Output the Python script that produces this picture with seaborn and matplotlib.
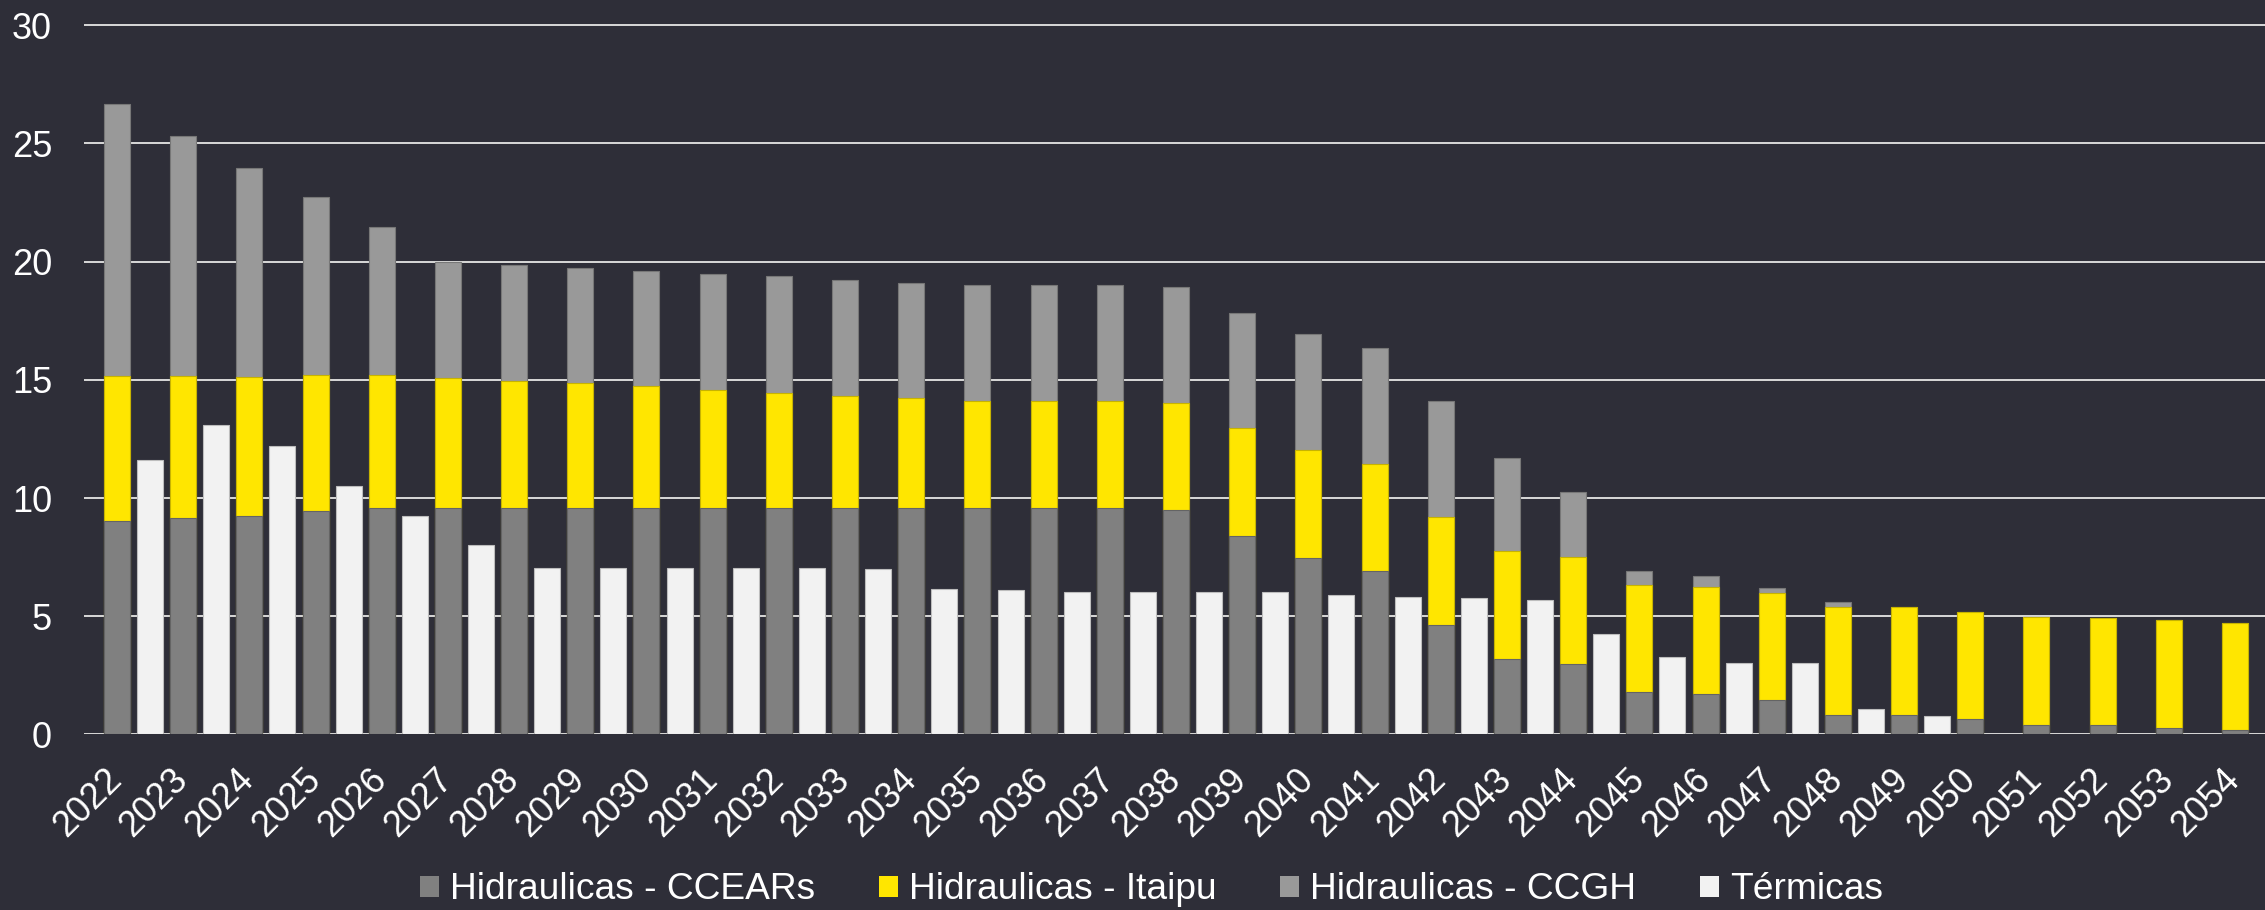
import numpy as np
import pandas as pd
import matplotlib
matplotlib.use("Agg")
import matplotlib.pyplot as plt
from matplotlib.patches import Patch
from matplotlib.colors import to_rgb
from matplotlib.transforms import ScaledTranslation
import seaborn as sns

# ---------------- data ----------------
years = [str(y) for y in range(2022, 2055)]

ccear = [9.02, 9.14, 9.23, 9.43, 9.58, 9.58, 9.58, 9.58, 9.58, 9.58,
         9.58, 9.58, 9.58, 9.58, 9.58, 9.58, 9.49, 8.39, 7.46, 6.91,
         4.63, 3.18, 2.97, 1.80, 1.70, 1.44, 0.84, 0.84, 0.66, 0.39,
         0.39, 0.27, 0.18]
itaipu = [6.15, 6.03, 5.90, 5.78, 5.63, 5.51, 5.39, 5.27, 5.14, 5.00,
          4.88, 4.73, 4.65, 4.51, 4.51, 4.51, 4.54, 4.57, 4.58, 4.53,
          4.56, 4.57, 4.53, 4.52, 4.55, 4.55, 4.55, 4.57, 4.51, 4.57,
          4.53, 4.57, 4.54]
ccgh = [11.49, 10.15, 8.84, 7.53, 6.24, 4.90, 4.88, 4.90, 4.90, 4.90,
        4.92, 4.92, 4.88, 4.90, 4.90, 4.90, 4.90, 4.88, 4.90, 4.92,
        4.90, 3.96, 2.77, 0.61, 0.43, 0.20, 0.19, 0.0, 0.0, 0.0,
        0.0, 0.0, 0.0]
termicas = [11.61, 13.08, 12.20, 10.52, 9.23, 8.02, 7.03, 7.03, 7.03, 7.03,
            7.03, 6.99, 6.13, 6.11, 6.03, 6.03, 6.01, 6.01, 5.91, 5.82,
            5.78, 5.70, 4.24, 3.26, 3.03, 3.03, 1.07, 0.76, 0.0, 0.0,
            0.0, 0.0, 0.0]

series_labels = ["Hidraulicas - CCEARs", "Hidraulicas - Itaipu",
                 "Hidraulicas - CCGH", "Térmicas"]

# ---------------- style ----------------
BG = "#2e2e38"
C_CCEAR = "#808080"
C_ITAIPU = "#ffe600"
C_CCGH = "#999999"
C_TERM = "#f2f2f2"
GRID = "#d9d9d9"

sns.set_theme(style="dark")
plt.rcParams['font.family'] = ['Liberation Sans', 'DejaVu Sans']

W, H = 2265, 910
fig = plt.figure(figsize=(W / 100, H / 100), dpi=100, facecolor=BG)
y0_px, unit = 734.4, 23.64
ymax = 30.1
ax = fig.add_axes([84 / W, 1 - y0_px / H, 1 - 84 / W, ymax * unit / H])
ax.set_facecolor(BG)

n = len(years)
c = np.array(ccear)
top_itaipu = c + np.array(itaipu)
top_all = top_itaipu + np.array(ccgh)


def frame(h_vals, t_vals):
    return pd.DataFrame({
        "year": years * 2,
        "grupo": ["H"] * n + ["T"] * n,
        "valor": list(h_vals) + list(t_vals),
    })


def darker(col, f=0.78):
    r, g, b = to_rgb(col)
    return (r * f, g * f, b * f)


layers = [
    (frame(top_all, termicas), {"H": C_CCGH, "T": C_TERM}),
    (frame(top_itaipu, [np.nan] * n), {"H": C_ITAIPU, "T": C_TERM}),
    (frame(ccear, [np.nan] * n), {"H": C_CCEAR, "T": C_TERM}),
]
for df, pal in layers:
    before = len(ax.patches)
    sns.barplot(data=df, x="year", y="valor", hue="grupo", hue_order=["H", "T"],
                order=years, palette=pal, dodge=True, width=1.0, gap=0.214,
                saturation=1, errorbar=None, legend=False, linewidth=0, ax=ax)
    for p in ax.patches[before:]:
        h = p.get_height()
        if np.isfinite(h) and h > 0:
            p.set_edgecolor(darker(p.get_facecolor()[:3]))
            p.set_linewidth(0.8)

# ---------------- axes ----------------
ax.set_xlim((84 - 133.5) / 66.19, (W - 133.5) / 66.19)
ax.set_ylim(0, ymax)
ax.set_yticks([0, 5, 10, 15, 20, 25, 30])
ax.set_xlabel("")
ax.set_ylabel("")
for s in ax.spines.values():
    s.set_visible(False)
ax.set_axisbelow(True)
ax.yaxis.grid(True, color=GRID, linewidth=1.4)
ax.xaxis.grid(False)

ax.tick_params(axis="y", length=0, pad=23, labelsize=26, labelcolor="white")
ax.tick_params(axis="x", length=0, pad=29, labelsize=26, labelcolor="white")
off = ScaledTranslation(-17 / 100, 0, fig.dpi_scale_trans)
for lab in ax.get_xticklabels():
    lab.set_rotation(45)
    lab.set_ha("right")
    lab.set_va("center")
    lab.set_rotation_mode("anchor")
    lab.set_transform(lab.get_transform() + off)

handles = [Patch(facecolor=col, edgecolor="none")
           for col in [C_CCEAR, C_ITAIPU, C_CCGH, C_TERM]]
fig.legend(handles, series_labels, loc="center", bbox_to_anchor=(0.5084, 0.022),
           ncol=4, frameon=False, fontsize=26.7, handlelength=0.5, handleheight=0.5,
           handletextpad=0.3, columnspacing=1.73, labelcolor="white")

fig.savefig("out.png", dpi=100, facecolor=BG)
